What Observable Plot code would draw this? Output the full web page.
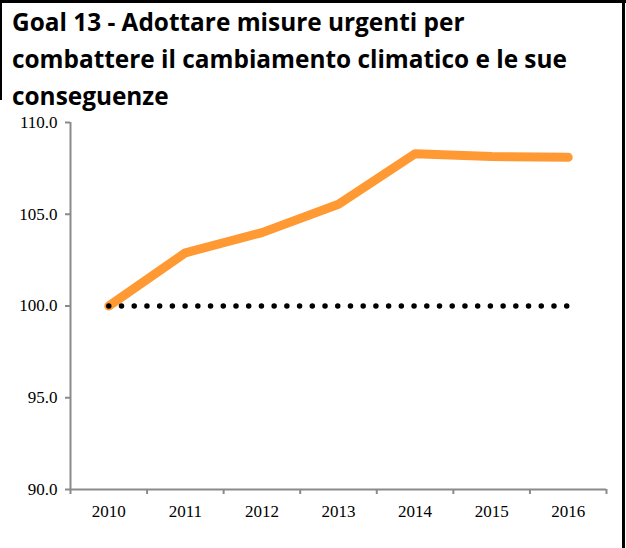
<!DOCTYPE html>
<html><head><meta charset="utf-8">
<script src="https://cdn.jsdelivr.net/npm/d3@7"></script>
<script src="https://cdn.jsdelivr.net/npm/@observablehq/plot@0.6"></script>
<style>
html,body{margin:0;padding:0;background:#fff;}
#wrap{position:relative;width:626px;height:548px;overflow:hidden;background:#fff;}
#title{position:absolute;left:0;top:0;}
#chart svg text{font-family:"Liberation Serif", serif !important;}
.b{position:absolute;background:#000;}
</style></head><body>
<div id="wrap">
<div id="chart"></div>
<svg id="title" width="626" height="118"></svg>
<div class="b" style="left:0;top:0;width:626px;height:3px"></div>
<div class="b" style="left:622px;top:0;width:3px;height:548px"></div>
<div class="b" style="left:0;top:0;width:2px;height:100px"></div>
</div>
<script>
const titleLines = [
  "Goal 13 - Adottare misure urgenti per",
  "combattere il cambiamento climatico e le sue",
  "conseguenze"
];
const years = [2010, 2011, 2012, 2013, 2014, 2015, 2016];
const values = [100.0, 102.9, 104.0, 105.55, 108.3, 108.15, 108.1];
const baseValue = 100;
const yTicks = [90, 95, 100, 105, 110];

const data = years.map((y, i) => ({year: y, value: values[i], base: baseValue}));
const xDomain = [years[0] - 0.5, years[years.length - 1] + 0.5];
const yDomain = [yTicks[0], yTicks[yTicks.length - 1]];
const boundaries = years.map(y => y - 0.5).concat([years[years.length - 1] + 0.5]);
const gray = "#8a8a8a";
const serif = "Liberation Serif";

const chart = Plot.plot({
  width: 626,
  height: 548,
  marginLeft: 70,
  marginRight: 20,
  marginTop: 122,
  marginBottom: 59,
  style: {background: "transparent", fontFamily: serif, overflow: "visible"},
  x: {type: "linear", domain: xDomain},
  y: {type: "linear", domain: yDomain},
  marks: [
    Plot.axisY({ticks: yTicks, tickSize: 5, tickFormat: () => "", stroke: gray, strokeWidth: 2, label: null}),
    Plot.axisY({ticks: yTicks, tickSize: 0, tickPadding: 13, tickFormat: d => d.toFixed(1), fontSize: 17, fontFamily: serif, fill: "black", label: null}),
    Plot.axisX({ticks: boundaries, tickSize: 5, tickFormat: () => "", stroke: gray, strokeWidth: 2, label: null}),
    Plot.axisX({ticks: years, tickSize: 0, tickPadding: 15, tickFormat: d => String(d), fontSize: 17, fontFamily: serif, fill: "black", label: null}),
    Plot.ruleY([yDomain[0]], {x1: xDomain[0], x2: xDomain[1], stroke: gray, strokeWidth: 2}),
    Plot.ruleX([xDomain[0]], {y1: yDomain[0], y2: yDomain[1], stroke: gray, strokeWidth: 2}),
    Plot.line(data, {x: "year", y: "value", stroke: "#FF9933", strokeWidth: 9, strokeLinecap: "round", strokeLinejoin: "round"}),
    Plot.line(data, {x: "year", y: "base", stroke: "black", strokeWidth: 5.5, strokeDasharray: "0 12.72", strokeLinecap: "round"})
  ]
});
document.getElementById("chart").appendChild(chart);

const svg = d3.select("#title");
const baselines = [31, 68, 105];
const texts = titleLines.map((t, i) =>
  svg.append("text")
    .attr("x", 12).attr("y", baselines[i])
    .attr("font-family", "'Open Sans', sans-serif")
    .attr("font-weight", "bold")
    .attr("font-size", 24)
    .attr("fill", "black")
    .text(t));
// fit the longest line to the reference width
const w = texts[1].node().getComputedTextLength();
const fs = 24 * 555 / w;
texts.forEach(t => t.attr("font-size", fs.toFixed(2)));
</script>
</body></html>
